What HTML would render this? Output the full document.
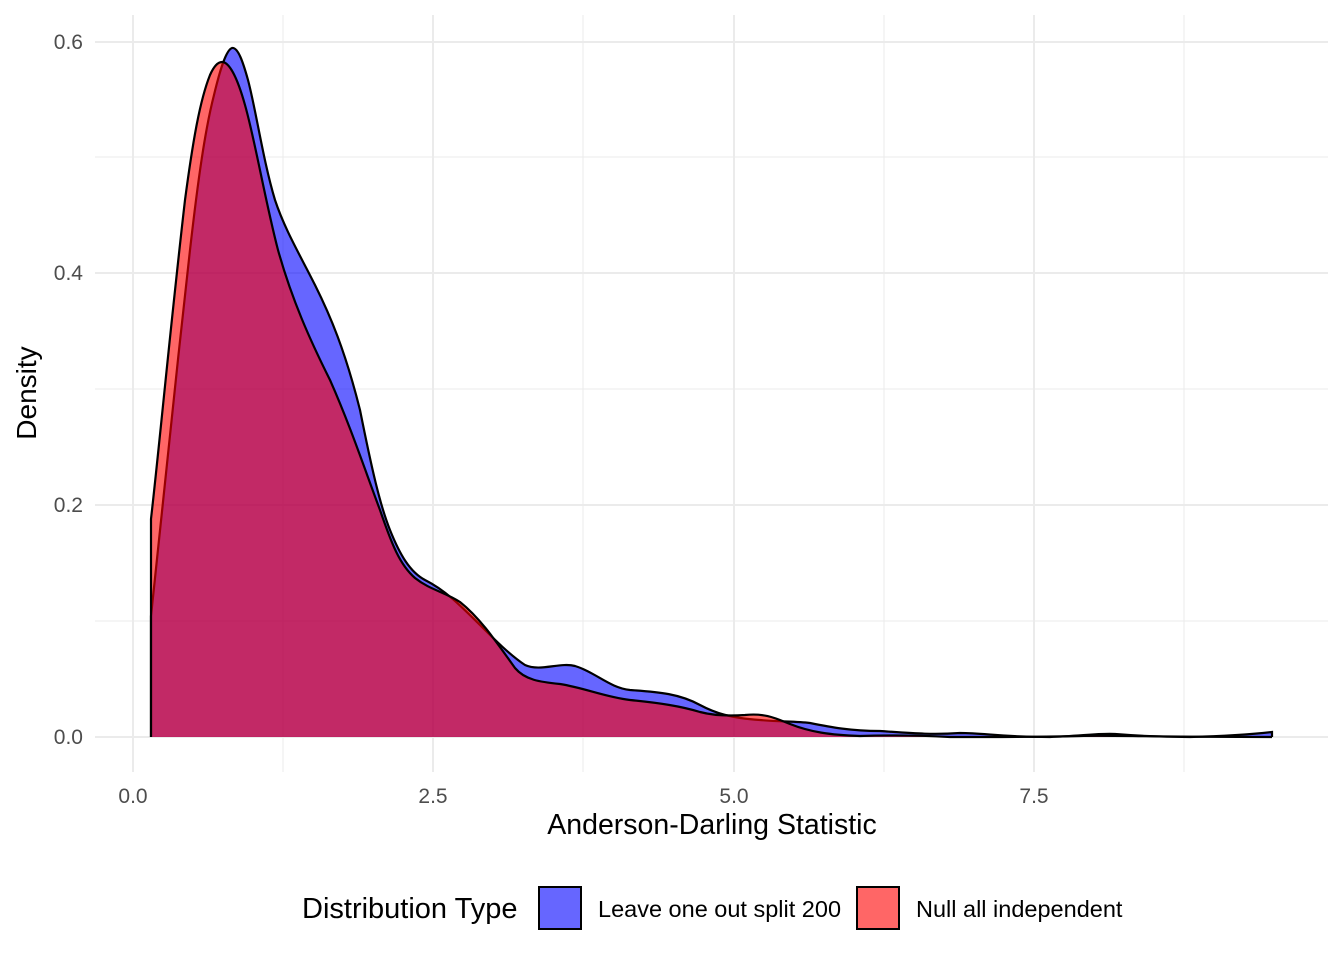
<!DOCTYPE html>
<html><head><meta charset="utf-8"><style>body{margin:0;background:#fff}svg{display:block}text{font-family:"Liberation Sans",Arial,sans-serif}</style></head>
<body>
<svg width="1344" height="960" viewBox="0 0 1344 960">
<g stroke="#ebebeb" stroke-width="1">
<line x1="95" x2="1328" y1="157" y2="157"/><line x1="95" x2="1328" y1="389" y2="389"/><line x1="95" x2="1328" y1="621" y2="621"/>
<line x1="283" x2="283" y1="15" y2="772"/><line x1="583" x2="583" y1="15" y2="772"/><line x1="884" x2="884" y1="15" y2="772"/><line x1="1184" x2="1184" y1="15" y2="772"/>
</g>
<g stroke="#ebebeb" stroke-width="2">
<line x1="95" x2="1328" y1="42" y2="42"/><line x1="95" x2="1328" y1="273" y2="273"/><line x1="95" x2="1328" y1="505" y2="505"/><line x1="95" x2="1328" y1="737" y2="737"/>
<line x1="133" x2="133" y1="15" y2="772"/><line x1="433" x2="433" y1="15" y2="772"/><line x1="734" x2="734" y1="15" y2="772"/><line x1="1034" x2="1034" y1="15" y2="772"/>
</g>
<path fill="rgba(0,0,255,0.6)" d="M151,737 L151,616 C160,540 175,380 190,250 C198,180 205,130 214,95 C220,70 226,50 232,48 C238,47 243,62 248,80 C256,110 263,160 275,200 C285,230 300,255 315,285 C330,315 345,350 360,410 C372,470 380,505 390,530 C400,555 410,572 425,580 C445,590 460,605 480,625 C495,640 510,655 525,665 C540,672 560,662 575,666 C595,672 610,688 630,690 C660,692 680,694 700,705 C715,713 730,718 760,720 C780,722 795,721 810,723 C830,727 850,731 880,731 C910,733 930,735 960,733 C985,733 1000,737 1050,737 C1080,736 1100,733 1115,734 C1140,736 1170,737 1190,737 C1230,736 1255,734 1272,732 L1272,737 Z" stroke="none"/>
<path fill="none" stroke="#000" stroke-width="2.2" d="M151,737 L151,616 C160,540 175,380 190,250 C198,180 205,130 214,95 C220,70 226,50 232,48 C238,47 243,62 248,80 C256,110 263,160 275,200 C285,230 300,255 315,285 C330,315 345,350 360,410 C372,470 380,505 390,530 C400,555 410,572 425,580 C445,590 460,605 480,625 C495,640 510,655 525,665 C540,672 560,662 575,666 C595,672 610,688 630,690 C660,692 680,694 700,705 C715,713 730,718 760,720 C780,722 795,721 810,723 C830,727 850,731 880,731 C910,733 930,735 960,733 C985,733 1000,737 1050,737 C1080,736 1100,733 1115,734 C1140,736 1170,737 1190,737 C1230,736 1255,734 1272,732 L1272,737"/>
<path fill="rgba(255,0,0,0.6)" stroke="none" d="M151,737 L151,519 C160,440 170,330 185,200 C193,140 200,100 210,75 C214,66 218,62 222,62 C230,62 238,80 245,105 C255,140 265,200 278,250 C292,300 310,340 330,380 C350,425 365,470 380,510 C392,545 400,565 415,578 C430,590 445,592 460,602 C480,618 495,640 515,668 C525,680 540,682 560,684 C585,688 605,697 630,700 C660,703 680,706 700,712 C715,716 730,716 745,715 C765,713 775,718 790,724 C810,732 830,735 860,736 C890,735 915,735 950,737 C1000,737 1050,737 1080,736 C1110,735 1140,737 1272,737 Z"/>
<path fill="none" stroke="#000" stroke-width="2.2" d="M151,737 L151,519 C160,440 170,330 185,200 C193,140 200,100 210,75 C214,66 218,62 222,62 C230,62 238,80 245,105 C255,140 265,200 278,250 C292,300 310,340 330,380 C350,425 365,470 380,510 C392,545 400,565 415,578 C430,590 445,592 460,602 C480,618 495,640 515,668 C525,680 540,682 560,684 C585,688 605,697 630,700 C660,703 680,706 700,712 C715,716 730,716 745,715 C765,713 775,718 790,724 C810,732 830,735 860,736 C890,735 915,735 950,737 C1000,737 1050,737 1080,736 C1110,735 1140,737 1272,737"/>
<g font-size="21" fill="#4d4d4d" text-anchor="end">
<text x="83" y="49">0.6</text><text x="83" y="280">0.4</text><text x="83" y="512">0.2</text><text x="83" y="744">0.0</text>
</g>
<g font-size="21" fill="#4d4d4d" text-anchor="middle">
<text x="133" y="803">0.0</text><text x="433" y="803">2.5</text><text x="734" y="803">5.0</text><text x="1034" y="803">7.5</text>
</g>
<text x="712" y="834" font-size="28.5" text-anchor="middle" fill="#000">Anderson-Darling Statistic</text>
<text transform="translate(36,393) rotate(-90)" font-size="28" text-anchor="middle" fill="#000">Density</text>
<text x="302" y="918" font-size="29" fill="#000">Distribution Type</text>
<rect x="539" y="887" width="42" height="42" fill="#6666ff" stroke="#000" stroke-width="2"/>
<text x="598" y="917" font-size="23.5" fill="#000">Leave one out split 200</text>
<rect x="857" y="887" width="42" height="42" fill="#ff6666" stroke="#000" stroke-width="2"/>
<text x="916" y="917" font-size="23.5" fill="#000">Null all independent</text>
</svg>
</body></html>
